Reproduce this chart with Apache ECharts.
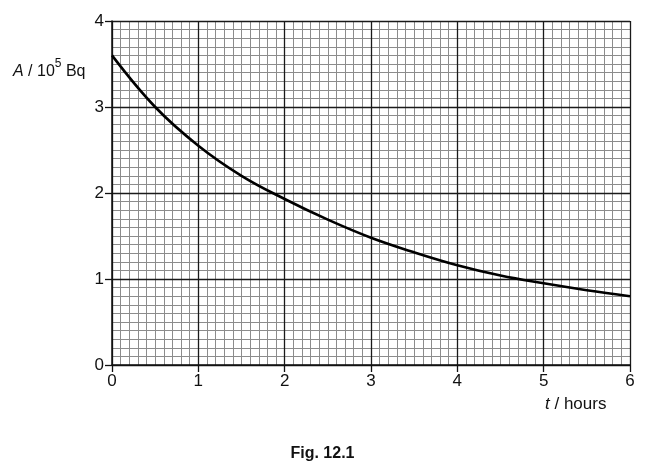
<!DOCTYPE html>
<html>
<head>
<meta charset="utf-8">
<script src="https://cdn.jsdelivr.net/npm/echarts@6/dist/echarts.min.js"></script>
<style>html,body{margin:0;padding:0;background:#fff;}#c{width:645px;height:467px;}</style>
</head>
<body>
<div id="c"></div>
<script>
// t in hours
const tHours = [0, 0.5, 1, 1.5, 2, 2.5, 3, 3.5, 4, 4.5, 5, 5.5, 6];
// activity A / 10^5 Bq
const activity = [3.6, 3.0, 2.55, 2.2, 1.93, 1.69, 1.48, 1.31, 1.16, 1.04, 0.95, 0.87, 0.80];
const xTicks = [0, 1, 2, 3, 4, 5, 6];
const yTicks = [0, 1, 2, 3, 4];

const FONT = '"Liberation Sans", Arial, sans-serif';
const chart = echarts.init(document.getElementById('c'), null, {renderer: 'canvas'});

const xMin = xTicks[0], xMax = xTicks[xTicks.length - 1];
const yMin = yTicks[0], yMax = yTicks[yTicks.length - 1];

// minor grid axes (bottom layer)
const minorAxis = {
  type: 'value', interval: 1,
  axisLine: {show: false}, axisTick: {show: false}, axisLabel: {show: false},
  splitLine: {show: false},
  minorTick: {show: false, splitNumber: 10},
  minorSplitLine: {show: true, lineStyle: {color: '#8c8c8c', width: 1}},
  z: 0
};
// major axes (top layer, with labels)
const majorAxis = {
  type: 'value', interval: 1,
  axisLine: {show: true, onZero: false, lineStyle: {color: '#111', width: 1.5}},
  axisTick: {show: true, inside: false, length: 7, lineStyle: {color: '#111', width: 1.3}},
  axisLabel: {color: '#111', fontSize: 17, fontFamily: FONT, margin: 8},
  splitLine: {show: true, lineStyle: {color: '#1a1a1a', width: 1.3}},
  z: 2
};

chart.setOption({
  animation: false,
  backgroundColor: '#fff',
  grid: {left: 112, top: 21, width: 518, height: 344, containLabel: false},
  xAxis: [
    Object.assign({}, minorAxis, {min: xMin, max: xMax, position: 'bottom'}),
    Object.assign({}, majorAxis, {min: xMin, max: xMax, position: 'bottom'})
  ],
  yAxis: [
    Object.assign({}, minorAxis, {min: yMin, max: yMax, position: 'left'}),
    Object.assign({}, majorAxis, {min: yMin, max: yMax, position: 'left'})
  ],
  series: [{
    type: 'line',
    xAxisIndex: 1, yAxisIndex: 1,
    data: tHours.map((t, i) => [t, activity[i]]),
    smooth: 0.4,
    showSymbol: false,
    lineStyle: {color: '#000', width: 2.6},
    z: 5
  }],
  graphic: [
    {
      type: 'text', left: 13, top: 58,
      style: {
        text: '{i|A}{n| / 10}{s|5}{n| Bq}',
        fill: '#111',
        rich: {
          i: {fontSize: 16, fontStyle: 'italic', fontFamily: FONT, lineHeight: 22, verticalAlign: 'bottom'},
          n: {fontSize: 16, fontFamily: FONT, lineHeight: 22, verticalAlign: 'bottom'},
          s: {fontSize: 12, fontFamily: FONT, lineHeight: 22, verticalAlign: 'top'}
        }
      }
    },
    {
      type: 'text', left: 545, top: 396,
      style: {
        text: '{i|t}{n| / hours}',
        fill: '#111',
        rich: {
          i: {fontSize: 17, fontStyle: 'italic', fontFamily: FONT},
          n: {fontSize: 17, fontFamily: FONT}
        }
      }
    },
    {
      type: 'text', left: 'center', top: 446,
      style: {text: 'Fig. 12.1', fill: '#111', font: 'bold 16px ' + FONT}
    }
  ]
});
</script>
</body>
</html>
